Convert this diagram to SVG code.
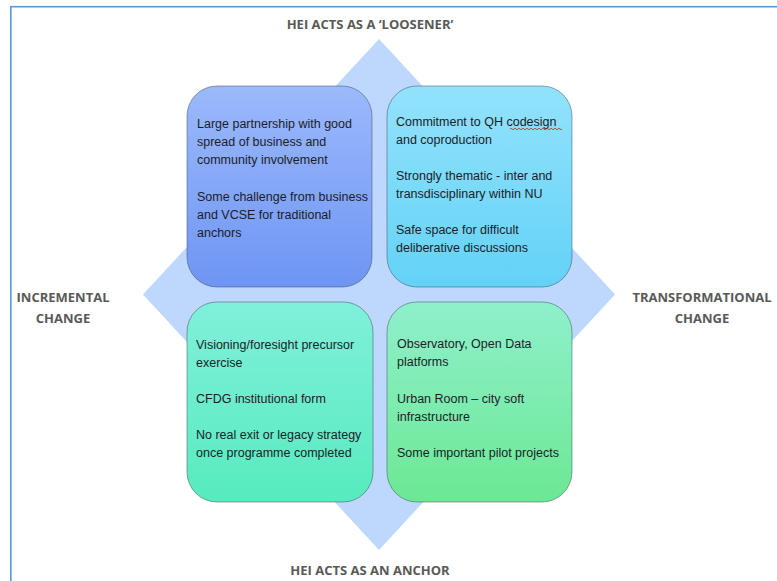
<svg xmlns="http://www.w3.org/2000/svg" width="777" height="581" viewBox="0 0 777 581">
<style>
.lbl{font-family:"Open Sans","Liberation Sans",sans-serif;font-weight:bold;font-size:13px;fill:#595959;text-anchor:middle}
.t{font-family:"Liberation Sans",Arial,sans-serif;font-size:12.5px;fill:#1c1c28}
.box{stroke:#3c4a5a;stroke-opacity:0.55;stroke-width:0.9}
</style>
<defs>
<linearGradient id="gTL" x1="0" y1="0" x2="0" y2="1"><stop offset="0" stop-color="#9bb9fb"/><stop offset="1" stop-color="#6e95f4"/></linearGradient>
<linearGradient id="gTR" x1="0" y1="0" x2="0" y2="1"><stop offset="0" stop-color="#93e2fc"/><stop offset="1" stop-color="#63d2f7"/></linearGradient>
<linearGradient id="gBL" x1="0" y1="0" x2="0" y2="1"><stop offset="0" stop-color="#80f0da"/><stop offset="1" stop-color="#57ebbe"/></linearGradient>
<linearGradient id="gBR" x1="0" y1="0" x2="0" y2="1"><stop offset="0" stop-color="#8ff0cc"/><stop offset="1" stop-color="#6ce894"/></linearGradient>
</defs>
<rect x="10.8" y="6.7" width="800" height="600" fill="#ffffff" stroke="#5b9bd5" stroke-width="1.6"/>
<polygon points="379,39 615,294.5 379,550 143,294.5" fill="#bdd7fd"/>
<g id="labels">
<text class="lbl" x="370" y="29">HEI ACTS AS A ‘LOOSENER’</text>
<text class="lbl" x="63" y="302">INCREMENTAL</text>
<text class="lbl" x="63" y="323">CHANGE</text>
<text class="lbl" x="702" y="302">TRANSFORMATIONAL</text>
<text class="lbl" x="702" y="323">CHANGE</text>
<text class="lbl" x="370" y="575">HEI ACTS AS AN ANCHOR</text>
</g>
<g id="tl">
<rect class="box" x="187" y="86" width="185" height="201" rx="30" fill="url(#gTL)"/>
<text class="t" x="197" y="128">Large partnership with good</text>
<text class="t" x="197" y="146">spread of business and</text>
<text class="t" x="197" y="164">community involvement</text>
<text class="t" x="197" y="201">Some challenge from business</text>
<text class="t" x="197" y="219">and VCSE for traditional</text>
<text class="t" x="197" y="237">anchors</text>
</g>
<g id="tr">
<rect class="box" x="387" y="86" width="185" height="201" rx="30" fill="url(#gTR)"/>
<text class="t" x="396" y="126">Commitment to QH codesign</text>
<text class="t" x="396" y="144">and coproduction</text>
<text class="t" x="396" y="180">Strongly thematic - inter and</text>
<text class="t" x="396" y="198">transdisciplinary within NU</text>
<text class="t" x="396" y="234">Safe space for difficult</text>
<text class="t" x="396" y="252">deliberative discussions</text>
<path d="M510,129 q1,-1.5 2,0 t2,0 t2,0 t2,0 t2,0 t2,0 t2,0 t2,0 t2,0 t2,0 t2,0 t2,0 t2,0 t2,0 t2,0 t2,0 t2,0 t2,0 t2,0 t2,0 t2,0 t2,0 t2,0 t2,0 t2,0 t2,0" fill="none" stroke="#d02020" stroke-width="0.8"/>
</g>
<g id="bl">
<rect class="box" x="187" y="302" width="186" height="200" rx="30" fill="url(#gBL)"/>
<text class="t" x="196" y="349">Visioning/foresight precursor</text>
<text class="t" x="196" y="367">exercise</text>
<text class="t" x="196" y="403">CFDG institutional form</text>
<text class="t" x="196" y="439">No real exit or legacy strategy</text>
<text class="t" x="196" y="457">once programme completed</text>
</g>
<g id="br">
<rect class="box" x="387" y="302" width="185" height="200" rx="30" fill="url(#gBR)"/>
<text class="t" x="397" y="348">Observatory, Open Data</text>
<text class="t" x="397" y="366">platforms</text>
<text class="t" x="397" y="403">Urban Room – city soft</text>
<text class="t" x="397" y="421">infrastructure</text>
<text class="t" x="397" y="457">Some important pilot projects</text>
</g>
<g id="connectors"></g>
</svg>
